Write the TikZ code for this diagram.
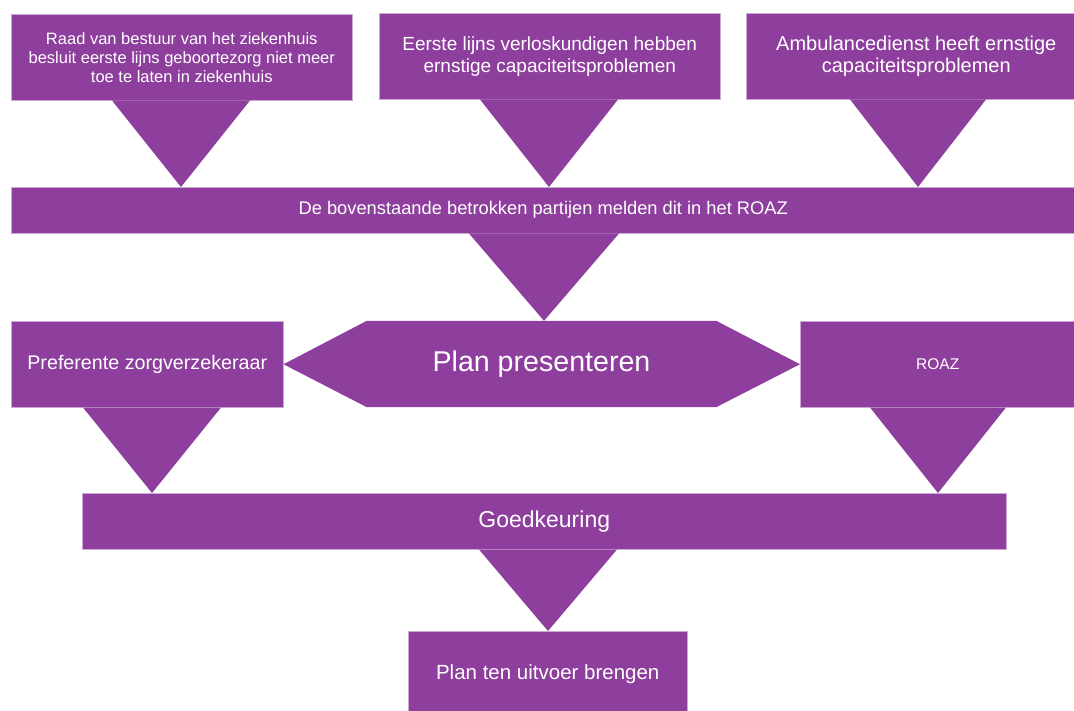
\documentclass[tikz,border=0pt]{standalone}
\usepackage{fontspec}
\setmainfont{Liberation Sans}
\usetikzlibrary{calc,backgrounds}

\begin{document}
\begin{tikzpicture}[x=1pt,y=-1pt]

\definecolor{main}{HTML}{8E3E9C}
\tikzset{
 blok/.style={fill=main, draw=main!45!white, line width=0.5pt, text=white,
  inner sep=0pt, anchor=north west, align=center}
}

\newcommand{\spike}[4] % [from][x][half width][to]
{
 \fill[main] let \p1=(#1.south), \p2=(#4.north) in
   ({#2-#3},\y1) -- (#2,\y2) -- ({#2+#3},\y1) -- cycle;
}

\useasboundingbox (0,0) rectangle (1074,711);
\clip (0,0) rectangle (1074,711);

% top row
\node[blok, minimum width=341pt, minimum height=86pt, font=\fontsize{16.5}{19}\selectfont]
 (raad) at (11,14)
 {Raad van bestuur van het ziekenhuis\\besluit eerste lijns geboortezorg niet meer\\toe te laten in ziekenhuis};
\node[blok, minimum width=341pt, minimum height=86pt, font=\fontsize{19}{22}\selectfont]
 (verlos) at (379,13)
 {Eerste lijns verloskundigen hebben\\ernstige capaciteitsproblemen};
\node[blok, minimum width=340pt, minimum height=86pt, font=\fontsize{20}{22}\selectfont]
 (amb) at (746,13)
 {Ambulancedienst heeft ernstige\\capaciteitsproblemen};

% melden
\node[blok, minimum width=1064pt, minimum height=46pt, font=\fontsize{18.3}{22}\selectfont]
 (band) at (11,187) {De bovenstaande betrokken partijen melden dit in het ROAZ};

% middle row
\node[blok, minimum width=272pt, minimum height=86pt, font=\fontsize{19.7}{22}\selectfont]
 (pref) at (11,321) {Preferente zorgverzekeraar};
\node[blok, minimum width=275pt, minimum height=86pt, font=\fontsize{15.5}{18}\selectfont]
 (roaz) at (800,321) {ROAZ};
\node[text=white, inner sep=0pt, minimum width=349pt, minimum height=86pt,
 font=\fontsize{28.6}{32}\selectfont] (plan) at (541.5,364) {Plan presenteren};
\begin{scope}[on background layer]
 \fill[main] (pref.east) -- (plan.north west) -- (plan.north east)
   -- (roaz.west) -- (plan.south east) -- (plan.south west) -- cycle;
\end{scope}

% bottom
\node[blok, minimum width=924pt, minimum height=56pt, font=\fontsize{23}{26}\selectfont]
 (goed) at (82,493) {Goedkeuring};
\node[blok, minimum width=279pt, minimum height=86pt, font=\fontsize{20.5}{24}\selectfont]
 (uitv) at (408,631) {Plan ten uitvoer brengen};

\spike{raad}{181}{69}{band}
\spike{verlos}{549}{69}{band}
\spike{amb}{918}{68}{band}
\spike{band}{544}{75}{plan}
\spike{pref}{152}{69}{goed}
\spike{roaz}{938}{68}{goed}
\spike{goed}{548}{69}{uitv}

\end{tikzpicture}
\end{document}
